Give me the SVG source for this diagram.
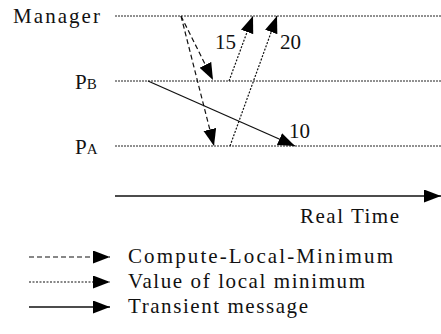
<svg xmlns="http://www.w3.org/2000/svg" width="441" height="334" viewBox="0 0 441 334">
<defs>
<marker id="ah" markerUnits="userSpaceOnUse" markerWidth="18" markerHeight="14" refX="17" refY="6.5" orient="auto" viewBox="0 0 18 14">
<path d="M0,0 L17,6.5 L0,13 Z" fill="#000"/>
</marker>
</defs>
<g id="manager">
<text font-family="Liberation Serif" font-size="21" fill="#111" x="13" y="23" textLength="87" lengthAdjust="spacing">Manager</text>
<line stroke="#222" stroke-width="1" stroke-dasharray="2,1" x1="115" y1="16" x2="441" y2="16"/>
</g>
<g id="pb">
<text font-family="Liberation Serif" font-size="21" fill="#111" x="75" y="89">P<tspan font-size="15">B</tspan></text>
<line stroke="#222" stroke-width="1" stroke-dasharray="2,1" x1="115" y1="81" x2="441" y2="81"/>
</g>
<g id="pa">
<text font-family="Liberation Serif" font-size="21" fill="#111" x="75" y="154">P<tspan font-size="15">A</tspan></text>
<line stroke="#222" stroke-width="1" stroke-dasharray="2,1" x1="115" y1="146" x2="441" y2="146"/>
</g>
<g id="connectors" fill="none">
<line stroke="#111" stroke-width="1.2" stroke-dasharray="5,3" x1="181" y1="16" x2="213" y2="80" marker-end="url(#ah)"/>
<line stroke="#111" stroke-width="1.2" stroke-dasharray="5,3" x1="181" y1="16" x2="214" y2="146" marker-end="url(#ah)"/>
<line stroke="#111" stroke-width="1.2" stroke-dasharray="2,1.5" x1="229" y1="81" x2="253" y2="16" marker-end="url(#ah)"/>
<line stroke="#111" stroke-width="1.2" stroke-dasharray="2,1.5" x1="230" y1="146" x2="277" y2="16" marker-end="url(#ah)"/>
<line stroke="#111" stroke-width="1.3" x1="148" y1="81" x2="295" y2="146" marker-end="url(#ah)"/>
<text font-family="Liberation Serif" font-size="21" fill="#111" x="215" y="49">15</text>
<text font-family="Liberation Serif" font-size="21" fill="#111" x="280" y="49">20</text>
<text font-family="Liberation Serif" font-size="21" fill="#111" x="289" y="138">10</text>
</g>
<g id="axis">
<line stroke="#111" stroke-width="1.3" x1="115" y1="196" x2="441" y2="196" marker-end="url(#ah)"/>
<text font-family="Liberation Serif" font-size="21" fill="#111" x="300" y="223" textLength="99" lengthAdjust="spacing">Real Time</text>
</g>
<g id="legend">
<line stroke="#111" stroke-width="1.2" stroke-dasharray="5,3" x1="29" y1="257" x2="110" y2="257" marker-end="url(#ah)"/>
<text font-family="Liberation Serif" font-size="21" fill="#111" x="128" y="263" textLength="265" lengthAdjust="spacing">Compute-Local-Minimum</text>
<line stroke="#111" stroke-width="1.2" stroke-dasharray="2,1.5" x1="29" y1="282" x2="110" y2="282" marker-end="url(#ah)"/>
<text font-family="Liberation Serif" font-size="21" fill="#111" x="128" y="288" textLength="237" lengthAdjust="spacing">Value of local minimum</text>
<line stroke="#111" stroke-width="1.3" x1="29" y1="307" x2="110" y2="307" marker-end="url(#ah)"/>
<text font-family="Liberation Serif" font-size="21" fill="#111" x="128" y="313" textLength="180" lengthAdjust="spacing">Transient message</text>
</g>
</svg>
